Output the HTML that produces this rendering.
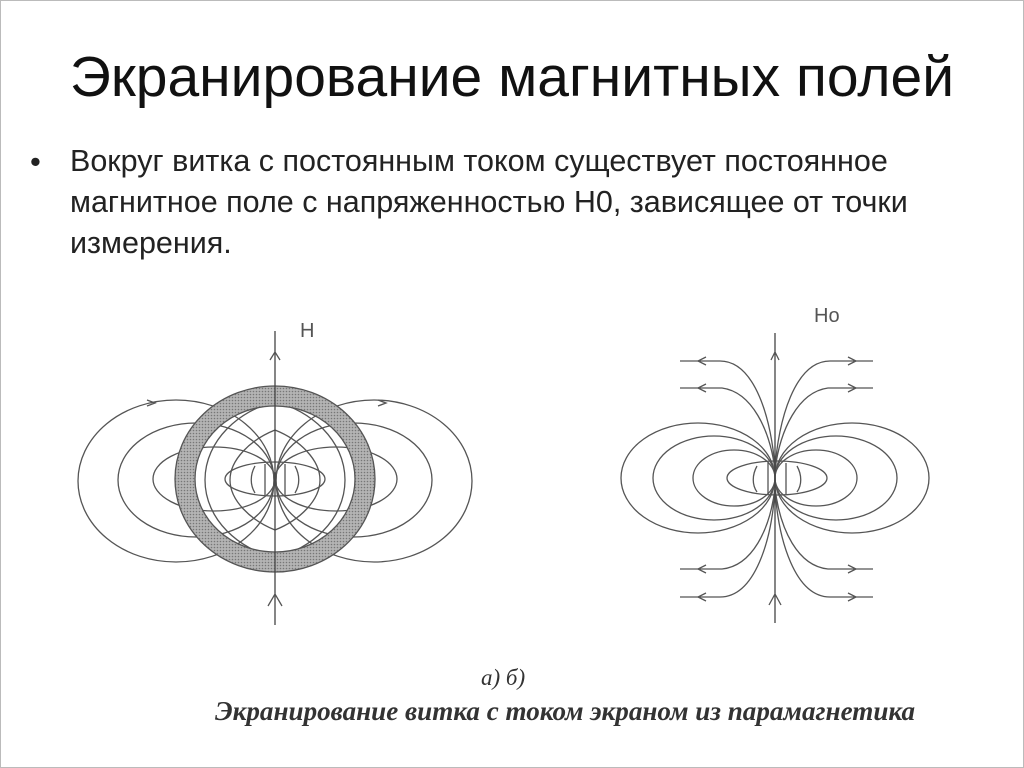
<!DOCTYPE html>
<html><head><meta charset="utf-8"><style>
body{margin:0;width:1024px;height:768px;background:#fff;overflow:hidden;position:relative;font-family:"Liberation Sans",sans-serif;}
.frame{position:absolute;left:0;top:0;width:1022px;height:766px;border:1px solid #bbb;}
h1{position:absolute;left:0;width:1024px;top:44px;margin:0;text-align:center;font-weight:normal;font-size:57px;color:#111;white-space:nowrap;}
.b{position:absolute;left:30px;top:141px;font-size:31px;line-height:41px;color:#222;}
.t{position:absolute;left:70px;top:141px;font-size:30.5px;line-height:41px;color:#222;width:950px;white-space:nowrap;}
</style></head><body>
<div class="frame"></div>
<h1>Экранирование магнитных полей</h1>
<div class="b">•</div>
<div class="t">Вокруг витка с постоянным током существует постоянное<br>магнитное поле с напряженностью Н0, зависящее от точки<br>измерения.</div>
<svg width="1024" height="768" style="position:absolute;left:0;top:0" fill="none" stroke="#555" stroke-width="1.3">
<defs><pattern id="dots" width="3" height="3" patternUnits="userSpaceOnUse"><rect width="3" height="3" fill="#b4b4b4" stroke="none"/><circle cx="1.5" cy="1.5" r="0.8" fill="#777" stroke="none"/></pattern></defs>
<g>
<ellipse cx="176" cy="481" rx="98" ry="81"/><ellipse cx="374" cy="481" rx="98" ry="81"/>
<ellipse cx="196" cy="480" rx="78" ry="57"/><ellipse cx="354" cy="480" rx="78" ry="57"/>
<ellipse cx="214" cy="479" rx="61" ry="32"/><ellipse cx="336" cy="479" rx="61" ry="32"/>
<path d="M275 402 C240 410 205 440 205 480 C205 520 240 550 275 557"/>
<path d="M275 402 C310 410 345 440 345 480 C345 520 310 550 275 557"/>
<path d="M275 430 C250 440 230 460 230 480 C230 500 250 520 275 530"/>
<path d="M275 430 C300 440 320 460 320 480 C320 500 300 520 275 530"/>
<ellipse cx="275" cy="479" rx="50" ry="17"/>
<path d="M265 464 V495 M285 464 V495 M255 466 C250 475 250 485 255 493 M295 466 C300 475 300 485 295 493"/>
<path fill-rule="evenodd" fill="url(#dots)" stroke="#555" d="M175 479 a100 93 0 1 0 200 0 a100 93 0 1 0 -200 0 Z M195 479 a80 73 0 1 0 160 0 a80 73 0 1 0 -160 0 Z"/>
<line x1="275" y1="331" x2="275" y2="625" stroke="#444"/>
<path d="M270 360 L275 352 L280 360 M268 606 L275 594 L282 606"/>
<path d="M147 400 L155 403 L147 406 M378 400 L386 403 L378 406"/>
<text x="300" y="337" font-family="Liberation Sans" font-size="20" fill="#555" stroke="none">H</text>
</g>
<g>
<ellipse cx="698" cy="478" rx="77" ry="55"/><ellipse cx="852" cy="478" rx="77" ry="55"/>
<ellipse cx="714" cy="478" rx="61" ry="42"/><ellipse cx="836" cy="478" rx="61" ry="42"/>
<ellipse cx="734" cy="478" rx="41" ry="28"/><ellipse cx="816" cy="478" rx="41" ry="28"/>
<ellipse cx="777" cy="478" rx="50" ry="17"/>
<path d="M768 463 V494 M786 463 V494 M757 466 C752 475 752 485 757 492 M797 466 C802 475 802 485 797 492"/>
<path d="M680 361 H720 C755 361 772 420 775 470 M680 388 H722 C752 392 770 430 775 470"/>
<path d="M873 361 H830 C795 361 778 420 775 470 M873 388 H828 C798 392 780 430 775 470"/>
<path d="M680 597 H720 C755 597 772 540 775 488 M680 569 H722 C752 566 770 530 775 488"/>
<path d="M873 597 H830 C795 597 778 540 775 488 M873 569 H828 C798 566 780 530 775 488"/>
<line x1="775" y1="333" x2="775" y2="623" stroke="#444"/>
<path d="M771 360 L775 352 L779 360 M769 605 L775 594 L781 605"/>
<path d="M706 357 L698 361 L706 365 M706 384 L698 388 L706 392 M706 565 L698 569 L706 573 M706 593 L698 597 L706 601"/>
<path d="M848 357 L856 361 L848 365 M848 384 L856 388 L848 392 M848 565 L856 569 L848 573 M848 593 L856 597 L848 601"/>
<text x="814" y="322" font-family="Liberation Sans" font-size="20" fill="#555" stroke="none">Ho</text>
</g>
<text x="481" y="685" font-family="Liberation Serif" font-style="italic" font-size="23" fill="#333" stroke="none">а) б)</text>
<text x="215" y="720" font-family="Liberation Serif" font-style="italic" font-weight="bold" font-size="27" fill="#333" stroke="none" textLength="700" lengthAdjust="spacingAndGlyphs">Экранирование витка с током экраном из парамагнетика</text>
</svg>
</body></html>
